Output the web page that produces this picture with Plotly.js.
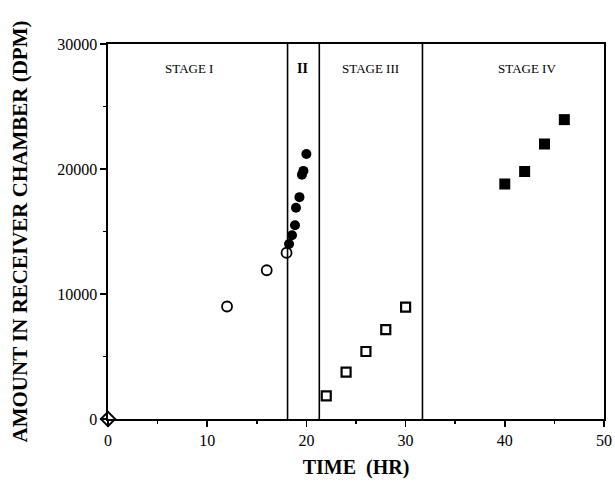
<!DOCTYPE html>
<html>
<head>
<meta charset="utf-8">
<script src="https://cdn.plot.ly/plotly-3.0.1.min.js"></script>
<style>html,body{margin:0;padding:0;background:#fff;}#chart{width:615px;height:489px;}</style>
</head>
<body>
<div id="chart"></div>
<script>
// Data
const originX = [0];
const originY = [0];
const stage1X = [12, 16, 18];
const stage1Y = [9000, 11900, 13300];
const stage2X = [18.25, 18.55, 18.85, 18.95, 19.3, 19.55, 19.7, 20.0];
const stage2Y = [14000, 14700, 15500, 16900, 17750, 19550, 19850, 21200];
const stage3X = [22, 24, 26, 28, 30];
const stage3Y = [1850, 3750, 5400, 7150, 8950];
const stage4X = [40, 42, 44, 46];
const stage4Y = [18800, 19800, 22000, 23950];
const stageBounds = [18.1, 21.3, 31.7];
const stageLabels = ["STAGE I", "<b>II</b>", "STAGE III", "STAGE IV"];
const stageLabelX = [8.15, 19.65, 26.45, 42.2];
const stageLabelY = 28080;
const xTicks = [0, 10, 20, 30, 40, 50];
const yTicks = [0, 10000, 20000, 30000];

const serif = "Liberation Serif, Times New Roman, serif";

const traces = [
  {x: originX, y: originY, mode: "markers", type: "scatter", cliponaxis: false,
   marker: {symbol: "diamond-open", size: 11, color: "#000", line: {width: 2, color: "#000"}}},
  {x: stage1X, y: stage1Y, mode: "markers", type: "scatter", cliponaxis: false,
   marker: {symbol: "circle-open", size: 10, color: "#000", line: {width: 1.8, color: "#000"}}},
  {x: stage2X, y: stage2Y, mode: "markers", type: "scatter", cliponaxis: false,
   marker: {symbol: "circle", size: 10, color: "#000"}},
  {x: stage3X, y: stage3Y, mode: "markers", type: "scatter", cliponaxis: false,
   marker: {symbol: "square-open", size: 9, color: "#000", line: {width: 2.2, color: "#000"}}},
  {x: stage4X, y: stage4Y, mode: "markers", type: "scatter", cliponaxis: false,
   marker: {symbol: "square", size: 11, color: "#000"}}
];

const shapes = stageBounds.map(b => ({
  type: "line", xref: "x", yref: "paper", x0: b, x1: b, y0: 0, y1: 1,
  line: {color: "#000", width: 1.6}
}));

const annotations = stageLabels.map((t, i) => ({
  x: stageLabelX[i], y: stageLabelY, xref: "x", yref: "y",
  text: t, showarrow: false, xanchor: "center", yanchor: "middle",
  font: {family: serif, size: i === 1 ? 14 : 13, color: "#000"}
}));

const layout = {
  width: 615, height: 489,
  margin: {l: 108, r: 11, t: 44, b: 70},
  paper_bgcolor: "#fff", plot_bgcolor: "#fff",
  showlegend: false,
  font: {family: serif, color: "#000"},
  xaxis: {
    range: [0, 50], tickvals: xTicks, ticktext: xTicks.map(String),
    ticks: "outside", ticklen: 6, tickwidth: 1.5, tickcolor: "#000",
    minor: {dtick: 5, ticks: "outside", ticklen: 3, tickwidth: 1.5, tickcolor: "#000"},
    showline: true, linecolor: "#000", linewidth: 1.6, mirror: true,
    showgrid: false, zeroline: false,
    tickfont: {family: serif, size: 16, color: "#000"},
    title: {text: "<b>TIME  (HR)</b>", font: {family: serif, size: 20, color: "#000"}, standoff: 12}
  },
  yaxis: {
    range: [0, 30000], tickvals: yTicks, ticktext: yTicks.map(String),
    ticks: "outside", ticklen: 6, tickwidth: 1.5, tickcolor: "#000",
    minor: {dtick: 5000, ticks: "outside", ticklen: 3, tickwidth: 1.5, tickcolor: "#000"},
    showline: true, linecolor: "#000", linewidth: 1.6, mirror: true,
    showgrid: false, zeroline: false,
    tickfont: {family: serif, size: 16, color: "#000"},
    title: {text: "<b>AMOUNT IN RECEIVER CHAMBER (DPM)</b>", font: {family: serif, size: 21, color: "#000"}, standoff: 24}
  },
  shapes: shapes,
  annotations: annotations
};

Plotly.newPlot("chart", traces, layout, {displayModeBar: false, staticPlot: true});
</script>
</body>
</html>
